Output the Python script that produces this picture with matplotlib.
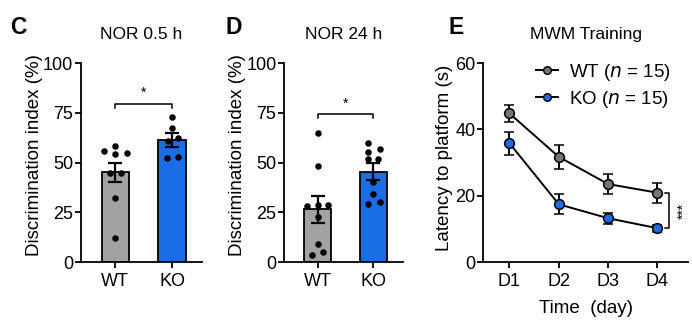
import matplotlib
matplotlib.use('Agg')
import matplotlib.pyplot as plt
from matplotlib.lines import Line2D

plt.rcParams['font.family'] = ['Liberation Sans', 'DejaVu Sans']

groups = ['WT', 'KO']
gray = '#a2a2a4'
blue = '#1b6de6'
wt_marker = '#747474'

# NOR 0.5 h
c_mean = [45.2, 61.3]
c_sem = [4.8, 3.3]
c_wt_x = [-0.20, 0.0, 0.0, 0.21, -0.09, 0.10, 0.0, 0.0]
c_wt_y = [55.9, 58.3, 54.3, 54.9, 44.7, 44.7, 32.0, 12.2]
c_ko_x = [0.0, 0.0, 0.10, -0.07, -0.08, 0.11]
c_ko_y = [72.7, 67.5, 62.2, 61.0, 52.1, 52.6]

# NOR 24 h
d_mean = [26.5, 45.4]
d_sem = [6.9, 4.2]
d_wt_x = [0.0, 0.0, -0.19, 0.0, 0.19, 0.0, 0.0, -0.10, 0.09]
d_wt_y = [65.0, 48.2, 28.1, 28.6, 28.6, 22.5, 9.0, 3.5, 5.2]
d_ko_x = [-0.09, -0.09, 0.12, -0.09, 0.08, 0.0, 0.0, -0.09, 0.12]
d_ko_y = [59.6, 55.4, 56.6, 51.6, 51.6, 40.4, 34.2, 29.1, 30.0]

# MWM training
days = ['D1', 'D2', 'D3', 'D4']
wt_lat = [44.8, 31.7, 23.5, 20.9]
wt_err = [2.5, 3.6, 3.0, 3.0]
ko_lat = [35.8, 17.4, 13.2, 10.2]
ko_err = [3.5, 3.0, 1.6, 1.0]

fig = plt.figure(figsize=(6.92, 3.25), dpi=100)
axC = fig.add_axes([0.1170, 0.1938, 0.1750, 0.6123])
axD = fig.add_axes([0.4105, 0.1938, 0.1715, 0.6123])
axE = fig.add_axes([0.6985, 0.1938, 0.2957, 0.6123])


def style(ax):
    for s in ['top', 'right']:
        ax.spines[s].set_visible(False)
    for s in ['left', 'bottom']:
        ax.spines[s].set_linewidth(1.3)
    ax.tick_params(width=1.3, length=4, labelsize=13)
    ax.tick_params(axis='y', pad=1.5)
    ax.tick_params(axis='x', pad=4)


def bar_panel(ax, means, sems, wx, wy, kx, ky, bracket_y, title):
    ax.bar([0, 1], means, width=0.48, color=[gray, blue], edgecolor='black', linewidth=1.3, zorder=1)
    ax.errorbar([0, 1], means, yerr=sems, fmt='none', ecolor='black', elinewidth=1.6,
                capsize=5, capthick=1.6, zorder=3)
    ax.scatter(wx, wy, s=22, color='black', zorder=4, linewidths=0)
    ax.scatter([1 + x for x in kx], ky, s=22, color='black', zorder=4, linewidths=0)
    ax.plot([0, 0, 1, 1], [bracket_y - 2, bracket_y, bracket_y, bracket_y - 2], color='black', lw=1.1)
    ax.text(0.5, bracket_y + 2, '*', ha='center', va='bottom', fontsize=10)
    ax.set_xlim(-0.605, 1.53)
    ax.set_ylim(0, 100)
    ax.set_yticks([0, 25, 50, 75, 100])
    ax.set_xticks([0, 1])
    ax.set_xticklabels(groups)
    ax.set_ylabel('Discrimination index (%)', fontsize=13.5, labelpad=0)
    ax.yaxis.label.set_y(0.535)
    ax.set_title(title, fontsize=12.5, pad=17)
    style(ax)


bar_panel(axC, c_mean, c_sem, c_wt_x, c_wt_y, c_ko_x, c_ko_y, 79.4, 'NOR 0.5 h')
bar_panel(axD, d_mean, d_sem, d_wt_x, d_wt_y, d_ko_x, d_ko_y, 74.2, 'NOR 24 h')

x = list(range(len(days)))
for lat, err, fc in [(wt_lat, wt_err, wt_marker), (ko_lat, ko_err, blue)]:
    axE.errorbar(x, lat, yerr=err, color='black', lw=1.4, elinewidth=1.4, capsize=3.5,
                 capthick=1.4, marker='o', markersize=7, markerfacecolor=fc,
                 markeredgecolor='black', markeredgewidth=1.1, zorder=3)
bx = 3.23
axE.plot([bx - 0.08, bx, bx, bx - 0.08], [wt_lat[3], wt_lat[3], ko_lat[3], ko_lat[3]],
         color='black', lw=1.1, clip_on=False)
axE.text(bx + 0.3, (wt_lat[3] + ko_lat[3]) / 2, '***', rotation=90, ha='center', va='center',
         fontsize=10)
axE.set_xlim(-0.53, 3.62)
axE.set_ylim(0, 60)
axE.set_yticks([0, 20, 40, 60])
axE.set_xticks(x)
axE.set_xticklabels(days)
axE.set_ylabel('Latency to platform (s)', fontsize=13.5, labelpad=2)
axE.yaxis.label.set_y(0.525)
axE.set_xlabel('Time  (day)', fontsize=13.5, labelpad=7)
axE.set_title('MWM Training', fontsize=12.5, pad=17)
style(axE)

handles = [Line2D([], [], color='black', lw=1.4, marker='o', markersize=5.5,
                  markerfacecolor=wt_marker, markeredgecolor='black', markeredgewidth=1.0),
           Line2D([], [], color='black', lw=1.4, marker='o', markersize=5.5,
                  markerfacecolor=blue, markeredgecolor='black', markeredgewidth=1.0)]
axE.legend(handles, ['WT ($n$ = 15)', 'KO ($n$ = 15)'], loc='upper right',
           bbox_to_anchor=(1.0, 1.09), frameon=False, fontsize=13.5,
           handlelength=1.2, handletextpad=0.6, labelspacing=0.3)

for letter, xp in [('C', 10), ('D', 226), ('E', 448)]:
    fig.text(xp / 692, 1 - 27 / 325, letter, fontsize=16.5, fontweight='bold', va='center', ha='left')

fig.savefig('out.png', dpi=100)
